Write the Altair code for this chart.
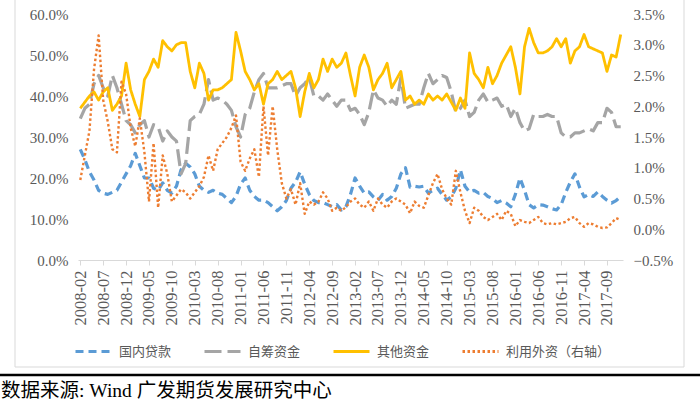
import altair as alt
import pandas as pd

# ---- categories (monthly, 2008-02 .. 2017-12) ----
months = pd.date_range("2008-02-01", periods=119, freq="MS").strftime("%Y-%m").tolist()
tick_labels = months[::5]

series_names = ["国内贷款", "自筹资金", "其他资金", "利用外资（右轴）"]
series_colors = ["#5b9bd5", "#a5a5a5", "#ffc000", "#ed7d31"]
series_dashes = [[8, 5], [17, 6], [1, 0], [2.5, 2.5]]

# ---- values (percent) ----
domestic_loans = [
    27, 24.5, 21.5, 19.5, 17, 16.3, 16, 16.5, 17, 19,
    21, 23, 26, 23, 20, 20, 17.5, 17, 18.8, 17,
    16.3, 18, 22, 23.6, 22.7, 21, 18, 17, 16.5, 17,
    16.3, 16, 15, 14, 15.5, 18.5, 20, 17, 15.5, 14.6,
    14.6, 14, 13, 12, 13, 14.5, 17.5, 19, 21.5, 18.5,
    16, 14.5, 14, 14, 13.5, 13, 13.5, 12.2, 13, 16,
    20, 18, 16.3, 16.6, 15.4, 14.6, 16, 14.6, 15.5, 17.5,
    21, 22.5, 17.8, 18, 17.8, 18, 16.3, 17, 17.5, 16,
    14.6, 15.4, 17.5, 22, 18, 16.6, 17, 16.3, 16.5, 15.5,
    15, 14, 14.5, 13.9, 13, 16, 20, 17, 13.5, 12.7,
    13.5, 13.4, 13, 12.5, 12.2, 13.5, 16.5, 19, 21, 17.8,
    15.4, 16, 15.5, 16.6, 15.5, 14.6, 13.9, 14.5, 15.5,
]
self_raised = [
    34.5, 37, 38, 43, 45, 42, 40, 45, 42, 38,
    34, 33, 31, 33, 34, 30, 33, 32.5, 29, 31.5,
    30, 29, 21, 23.5, 34, 35, 35.5, 38, 44, 39,
    39.5, 39, 38, 36.5, 32.5, 30, 35.5, 37, 41, 44,
    45.5, 42, 42, 42, 42.5, 43, 43, 40, 42, 43,
    44.5, 40, 40, 39, 40.5, 39, 37.5, 39, 39, 36.5,
    37, 35.5, 33, 36, 41.5, 39.5, 39, 37.5, 39, 38,
    44.5, 37, 37.5, 38, 38, 42, 45.5, 43, 44, 45,
    44.5, 41, 36, 37, 39, 35, 36, 39, 40.5, 38.5,
    39, 39.5, 37.5, 38, 35, 37, 33.5, 31.5, 32, 35.5,
    35, 35, 35.5, 35, 35, 31, 30, 30, 31, 31,
    31.5, 32, 31.5, 33.5, 33.5, 37, 36, 32.5, 32.5,
]
other_funds = [
    37, 38.5, 40, 41, 39, 41, 42, 36.5, 38, 40,
    48, 41.5, 38, 35, 44, 46, 49, 47, 53.5, 52,
    51, 52.5, 53, 53, 46, 42, 48, 45.5, 39, 41.5,
    41.5, 42, 43, 44, 55.5, 51, 46, 44, 41.5, 43,
    38, 43, 44, 46, 44, 45, 46, 42, 35, 41,
    45.5, 42, 44, 49, 46, 49, 47, 48, 50.5, 45,
    40, 47, 50, 47, 41.5, 44, 45.5, 48, 42, 44,
    46, 39, 40, 38, 39, 38, 40.5, 39, 40, 39,
    40.5, 38.5, 36.5, 39.5, 37, 50.5, 45.5, 44, 42, 47,
    43, 45, 48, 50, 52, 47, 40.5, 52, 56.5, 53,
    50.5, 50.5, 51, 52, 54, 52, 54, 48, 51, 52,
    55, 52, 51.5, 51, 50.5, 46, 50, 49.5, 55,
]
foreign_capital = [
    0.8, 1.2, 1.6, 2.6, 3.15, 2.1, 1.75, 1.3, 1.25, 2.4,
    2.2, 1.65, 1.35, 1.8, 1.25, 0.45, 1.4, 0.35, 1.2, 0.9,
    0.45, 0.55, 0.65, 0.6, 0.5, 0.6, 0.7, 0.85, 1.2, 0.95,
    1.3, 1.4, 1.5, 1.65, 1.85, 1.1, 0.95, 1.15, 1.3, 0.85,
    2.0, 1.2, 2.0, 1.3, 0.75, 0.5, 0.65, 0.4, 0.75, 0.25,
    0.45, 0.4, 0.45, 0.6, 0.5, 0.3, 0.35, 0.3, 0.36, 0.45,
    0.5, 0.4, 0.35, 0.45, 0.3, 0.5, 0.4, 0.35, 0.45, 0.5,
    0.45, 0.4, 0.26, 0.45, 0.38, 0.35, 0.55, 0.75, 0.9, 0.65,
    0.5, 0.4, 0.95, 0.6, 0.3, 0.1, 0.35, 0.3, 0.2, 0.15,
    0.2, 0.25, 0.15, 0.3, 0.25, 0.05, 0.15, 0.12, 0.1, 0.15,
    0.2, 0.1, 0.08, 0.1, 0.08, 0.1, 0.12, 0.18, 0.2, 0.1,
    0.04, 0.1, 0.08, 0.04, 0.02, 0.03, 0.1, 0.18, 0.15,
]

left_ticks = [0, 10, 20, 30, 40, 50, 60]
right_ticks = [-0.5, 0, 0.5, 1.0, 1.5, 2.0, 2.5, 3.0, 3.5]

# ---- tables ----
rows = []
for name, vals in zip(series_names[:3], [domestic_loans, self_raised, other_funds]):
    for m, v in zip(months, vals):
        rows.append({"month": m, "value": v, "series": name})
left_df = pd.DataFrame(rows)
right_df = pd.DataFrame({"month": months, "value": foreign_capital, "series": series_names[3]})
one = pd.DataFrame({"k": [0]})

LABEL_FONT = "Liberation Serif"
GREY_TXT = "#595959"

x_enc = alt.X(
    "month:O",
    sort=None,
    scale=alt.Scale(type="point", padding=0.5),
    axis=alt.Axis(
        title=None, values=tick_labels, labelAngle=270, labelFont=LABEL_FONT,
        labelFontSize=16.5, labelColor=GREY_TXT, labelPadding=5,
        domainColor="#d9d9d9", tickColor="#d9d9d9", tickSize=5, grid=False,
    ),
)
color_enc = alt.Color("series:N", scale=alt.Scale(domain=series_names, range=series_colors), legend=alt.Legend(title=None))
dash_enc = alt.StrokeDash("series:N", scale=alt.Scale(domain=series_names, range=series_dashes), legend=alt.Legend(title=None))

left_y = alt.Y(
    "value:Q",
    scale=alt.Scale(domain=[0, 60], nice=False, zero=False),
    axis=alt.Axis(
        title=None, values=left_ticks, labelExpr="format(datum.value, '.1f') + '%'",
        labelFont=LABEL_FONT, labelFontSize=15, labelColor=GREY_TXT,
        domain=False, ticks=False, grid=False, labelPadding=10,
    ),
)
right_y = alt.Y(
    "value:Q",
    scale=alt.Scale(domain=[-0.5, 3.5], nice=False, zero=False),
    axis=alt.Axis(
        title=None, orient="right", values=right_ticks, labelExpr="format(datum.value, '.1f') + '%'",
        labelFont=LABEL_FONT, labelFontSize=15, labelColor=GREY_TXT,
        domain=False, ticks=False, grid=False, labelPadding=10,
    ),
)


def series_line(df, name, width, y_enc):
    return (
        alt.Chart(df)
        .transform_filter(alt.datum.series == name)
        .mark_line(strokeWidth=width, strokeJoin="round")
        .encode(x=x_enc, y=y_enc, color=color_enc, strokeDash=dash_enc)
    )


left = alt.layer(
    series_line(left_df, series_names[0], 3.2, left_y),
    series_line(left_df, series_names[1], 3.2, left_y),
    series_line(left_df, series_names[2], 2.8, left_y),
)
right = series_line(right_df, series_names[3], 2.4, right_y)

frame = alt.Chart(one).mark_rect(fill="transparent", stroke="#d9d9d9", strokeWidth=1).encode(
    x=alt.value(-63), x2=alt.value(606), y=alt.value(-16), y2=alt.value(353)
)
black_rule = alt.Chart(one).mark_rule(color="black", strokeWidth=2.5).encode(
    x=alt.value(-78), x2=alt.value(622), y=alt.value(361)
)
source = alt.Chart(one).mark_text(
    align="left", baseline="middle", fontSize=19.5, color="black",
    font="Liberation Serif, Noto Sans CJK SC",
).encode(x=alt.value(-77), y=alt.value(377), text=alt.value("数据来源: Wind  广发期货发展研究中心"))

chart = (
    alt.layer(frame, left, right, black_rule, source)
    .resolve_scale(y="independent")
    .properties(
        width=545, height=246,
        padding={"left": 78, "top": 14, "right": 77, "bottom": 145},
        autosize=alt.AutoSizeParams(type="none"),
        background="white",
    )
    .configure_view(stroke=None)
    .configure_legend(
        orient="none", legendX=-4, legendY=318, direction="horizontal",
        gridAlign="none",
        symbolType="stroke", symbolSize=1296, symbolStrokeWidth=3,
        labelFont="Noto Sans CJK SC", labelFontSize=13, labelColor=GREY_TXT,
        labelOffset=6, columnPadding=26, padding=0,
    )
)

chart.save("out.html", embed_options={"renderer": "svg", "actions": False})
